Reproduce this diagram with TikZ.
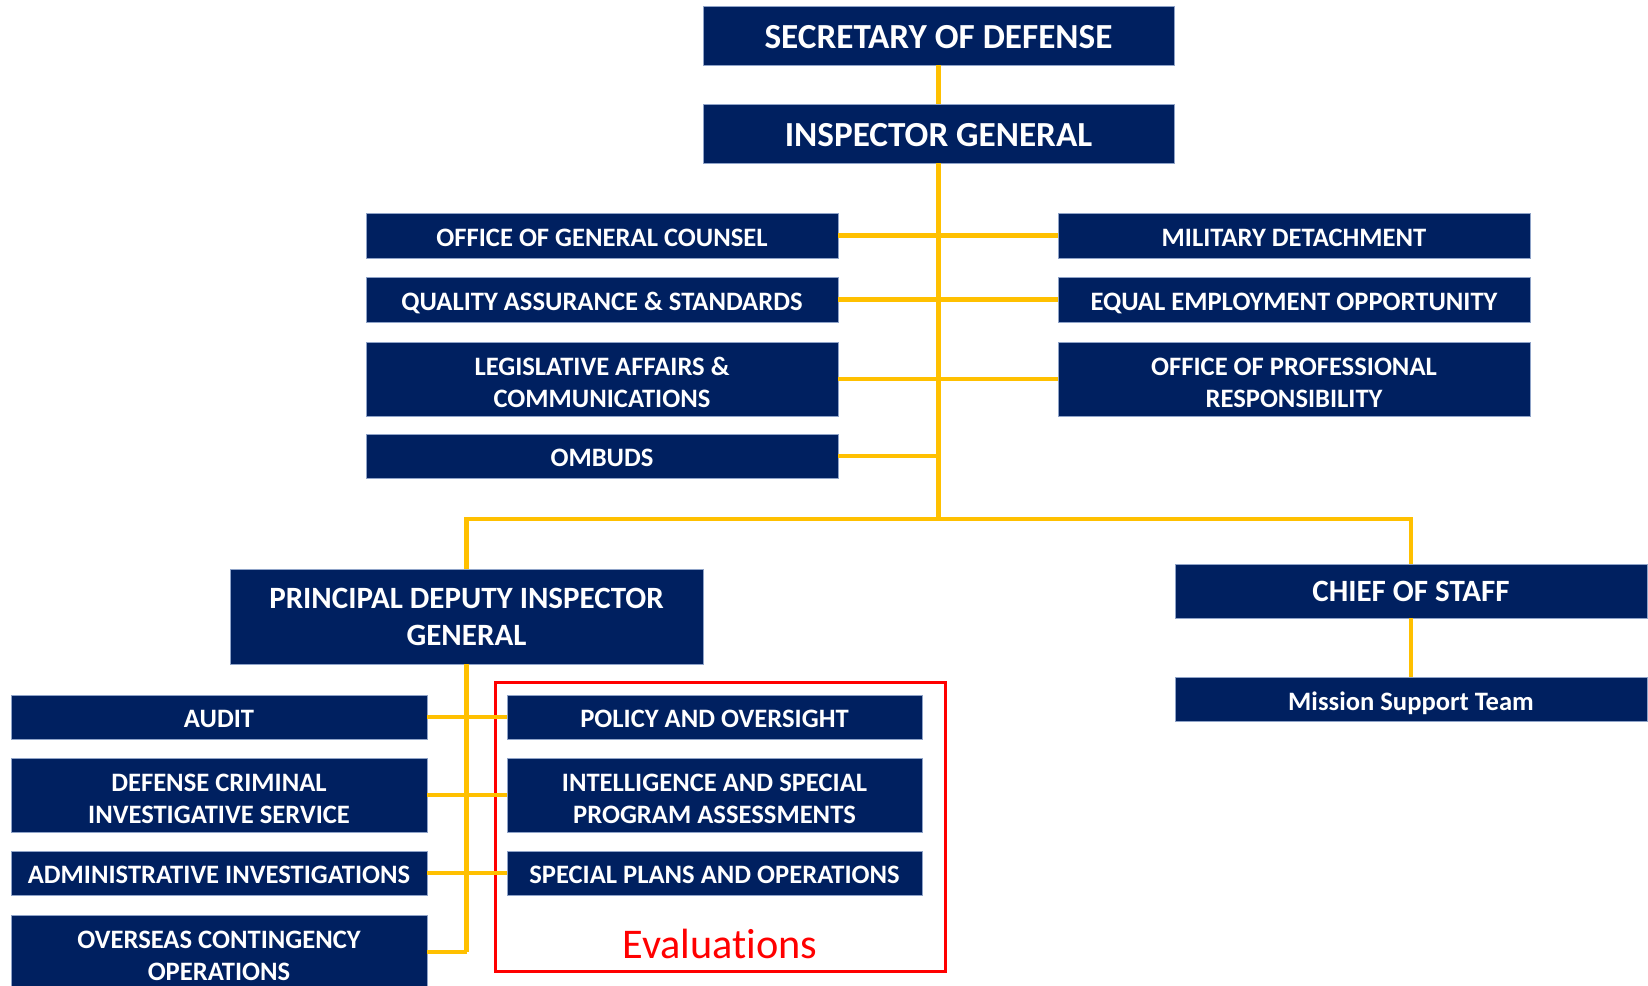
\documentclass[tikz,border=0pt]{standalone}
\usepackage{fontspec}
\setmainfont{Carlito}
\definecolor{navy}{HTML}{002060}
\definecolor{gold}{HTML}{FFC000}
\definecolor{edge}{HTML}{8FA3C8}
\definecolor{evalred}{HTML}{FF0000}
\newcommand\boxtext[2][4.4pt]{\raisebox{-#1}[\height][\depth]{\begin{tabular}{@{}c@{}}#2\end{tabular}}}
\tikzset{
  orgbox/.style={rectangle, fill=navy, draw=edge, line width=0.8pt, text=white, inner sep=0pt,
    font=\bfseries\fontsize{26.6}{31.5}\selectfont},
  bigbox/.style={orgbox, font=\bfseries\fontsize{35.2}{40}\selectfont},
  midbox/.style={orgbox, font=\bfseries\fontsize{31}{37}\selectfont},
  link/.style={draw=gold, line width=4.5pt},
}
\begin{document}
\begin{tikzpicture}[x=1pt,y=-1pt]
\useasboundingbox (0,0) rectangle (1648,985);
\clip (0,0) rectangle (1648,985);
% top
\node[bigbox, minimum width=471pt, minimum height=59pt] (sec) at (938.5,35.5) {\boxtext[5.3pt]{SECRETARY OF DEFENSE}};
\node[bigbox, minimum width=471pt, minimum height=59pt] (ig) at (938.5,133.5) {\boxtext[5.3pt]{INSPECTOR GENERAL}};
% staff offices left
\node[orgbox, minimum width=472pt, minimum height=45pt] (ogc) at (602,235.5) {\boxtext{OFFICE OF GENERAL COUNSEL}};
\node[orgbox, minimum width=472pt, minimum height=45pt] (qas) at (602,299.5) {\boxtext{QUALITY ASSURANCE \& STANDARDS}};
\node[orgbox, minimum width=472pt, minimum height=74pt] (lac) at (602,379) {\boxtext[6.3pt]{LEGISLATIVE AFFAIRS \&\\COMMUNICATIONS}};
\node[orgbox, minimum width=472pt, minimum height=44pt] (omb) at (602,456) {\boxtext{OMBUDS}};
% staff offices right
\node[orgbox, minimum width=472pt, minimum height=45pt] (mil) at (1294,235.5) {\boxtext{MILITARY DETACHMENT}};
\node[orgbox, minimum width=472pt, minimum height=45pt] (eeo) at (1294,299.5) {\boxtext{EQUAL EMPLOYMENT OPPORTUNITY}};
\node[orgbox, minimum width=472pt, minimum height=74pt] (opr) at (1294,379) {\boxtext[6.3pt]{OFFICE OF PROFESSIONAL\\RESPONSIBILITY}};
% second level
\node[midbox, minimum width=473pt, minimum height=95pt] (pdig) at (466.5,616.5) {\boxtext[2.7pt]{PRINCIPAL DEPUTY INSPECTOR\\GENERAL}};
\node[midbox, minimum width=472pt, minimum height=54pt] (cos) at (1411,591) {\boxtext[3.2pt]{CHIEF OF STAFF}};
\node[orgbox, minimum width=472pt, minimum height=44pt] (mst) at (1411,699) {\boxtext[4.8pt]{Mission Support Team}};
% components left
\node[orgbox, minimum width=416pt, minimum height=44pt] (aud) at (219,717) {\boxtext{AUDIT}};
\node[orgbox, minimum width=416pt, minimum height=74pt] (dcis) at (219,795) {\boxtext[6.3pt]{DEFENSE CRIMINAL\\INVESTIGATIVE SERVICE}};
\node[orgbox, minimum width=416pt, minimum height=44pt] (adm) at (219,873) {\boxtext{ADMINISTRATIVE INVESTIGATIONS}};
\node[orgbox, minimum width=416pt, minimum height=74pt] (oco) at (219,952) {\boxtext[6.3pt]{OVERSEAS CONTINGENCY\\OPERATIONS}};
% evaluations
\node[orgbox, minimum width=415pt, minimum height=44pt] (pao) at (714.5,717) {\boxtext{POLICY AND OVERSIGHT}};
\node[orgbox, minimum width=415pt, minimum height=74pt] (isp) at (714.5,795) {\boxtext[6.3pt]{INTELLIGENCE AND SPECIAL\\PROGRAM ASSESSMENTS}};
\node[orgbox, minimum width=415pt, minimum height=44pt] (spo) at (714.5,873) {\boxtext{SPECIAL PLANS AND OPERATIONS}};
\node[draw=evalred, line width=3pt, minimum width=450pt, minimum height=289pt, inner sep=0pt] (evalbox) at (720,826.5) {};
\node[text=evalred, font=\fontsize{42.3}{42}\selectfont\addfontfeatures{Ligatures={NoCommon,NoRare,NoContextual}}, inner sep=0pt] (evallbl) at (720,944) {Evaluations};
% junctions
\coordinate (jn) at (938.5,519);
\coordinate (jl) at (466.5,519);
\coordinate (jr) at (1411,519);
\coordinate (jomb) at (938.5,456);
\coordinate (jbot) at (466.5,952);
% connectors
\draw[link] (sec.south) -- (ig.north);
\draw[link] (ig.south) -- (jn);
\draw[link] (ogc.east) -- (mil.west);
\draw[link] (qas.east) -- (eeo.west);
\draw[link] (lac.east) -- (opr.west);
\draw[link] (omb.east) -- (jomb);
\draw[link] (pdig.north) -- (jl) -- (jr) -- (cos.north);
\draw[link] (cos.south) -- (mst.north);
\draw[link] (pdig.south) -- (jbot);
\draw[link] (aud.east) -- (pao.west);
\draw[link] (dcis.east) -- (isp.west);
\draw[link] (adm.east) -- (spo.west);
\draw[link] (oco.east) -- (jbot);
\end{tikzpicture}
\end{document}
